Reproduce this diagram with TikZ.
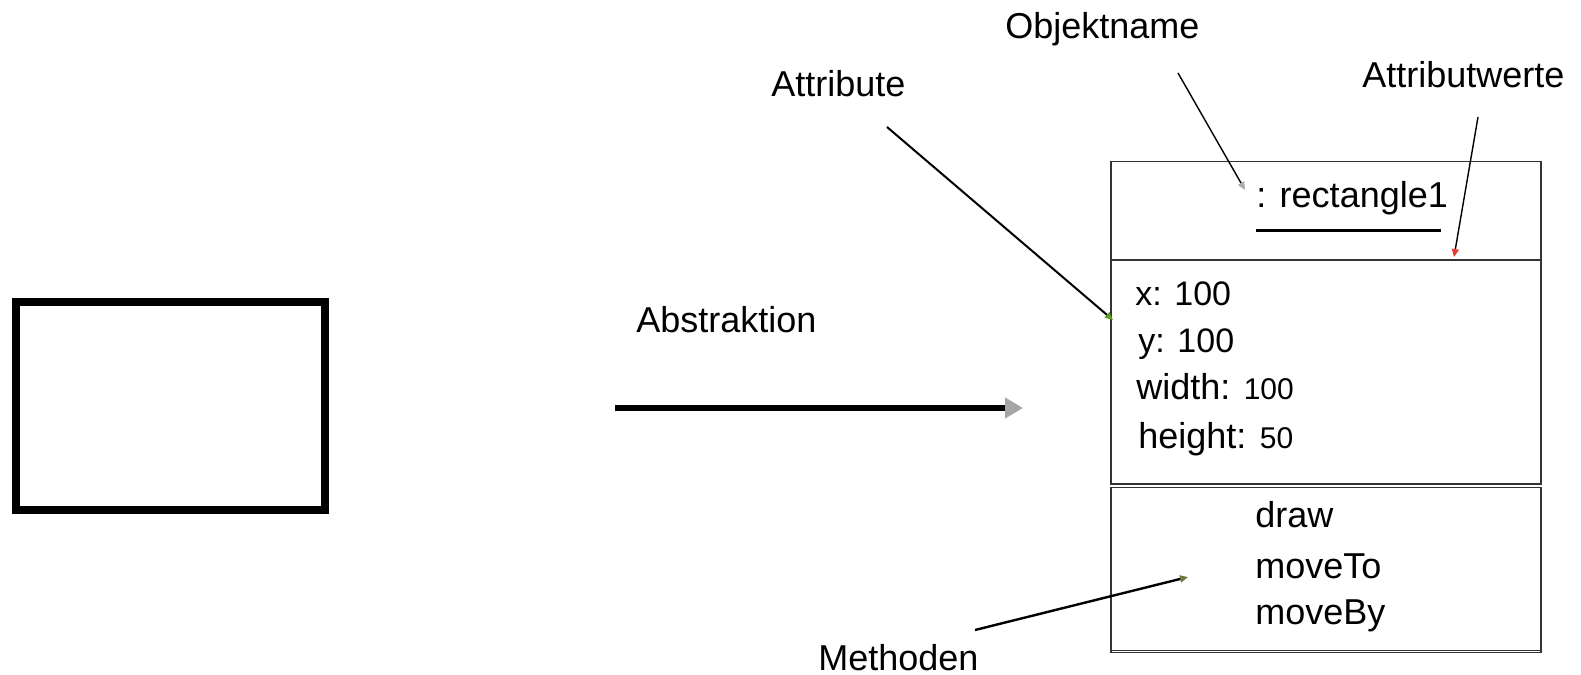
\documentclass[tikz,border=0pt]{standalone}
\usepackage{fontspec}
\setmainfont{Liberation Sans}
\usepackage{tikz}
\usetikzlibrary{shapes}
\usetikzlibrary{arrows.meta}
\usetikzlibrary{calc}
\definecolor{spitzegrau}{RGB}{170,170,170}
\definecolor{spitzegruen}{RGB}{90,160,40}
\definecolor{spitzerot}{RGB}{230,60,50}
\definecolor{spitzeoliv}{RGB}{110,120,60}
\tikzstyle{etikett}=[
        font=\fontsize{18}{22}\selectfont,
        inner sep=0pt,
        anchor=base west
]
\tikzstyle{wert}=[etikett,font=\fontsize{17}{20}\selectfont]
\tikzstyle{fach}=[rectangle,draw=black!80,line width=0.8pt,inner sep=0pt,anchor=north west,minimum width=215pt]
\tikzstyle{fachlinie}=[draw=black!80,line width=0.8pt]
\tikzstyle{figur}=[rectangle,draw,line width=4pt,minimum width=154.5pt,minimum height=104pt]
\tikzstyle{pfeil}=[line width=3pt,-{Triangle[length=9pt,width=10pt,color=black!35]}]
\tikzset{zeiger/.style={line width=1pt,-{Triangle[length=4pt,width=3.5pt,color=#1]}}}

\begin{document}
\begin{tikzpicture}[x=0.5pt,y=-0.5pt]
\useasboundingbox (0,0) rectangle (1581,675);
%Rechteck links
\node[figur] (rechteck) at (170.5,406) {};
%Abstraktion
\node[etikett] (abstr) at (636,332) {Abstraktion};
\coordinate (abA) at (615,408);
\coordinate (abB) at (1023,408);
\draw[pfeil] (abA) -- (abB);
%Objekt
\node[fach,minimum height=49.15pt] (kopf) at (1110,160.7) {};
\node[fach,minimum height=112.15pt] (attribute) at (1110,259) {};
\node[fach,minimum height=82.5pt] (methoden) at (1110,486.7) {};
\draw[fachlinie] ($(methoden.south west)+(0,-2.7)$) -- ($(methoden.south east)+(0,-2.7)$);
\node[etikett] (objname) at (1256,207) {: rectangle1};
\draw[line width=1.5pt] ($(objname.base west)+(0,23)$) -- ($(objname.base east)+(-7,23)$);
\node[wert] (ax) at (1135,305) {x: 100};
\node[wert] (ay) at (1138,352) {y: 100};
\node[etikett] (aw) at (1136,399) {width: {\fontsize{15}{18}\selectfont 100}};
\node[etikett] (ah) at (1138,448) {height: {\fontsize{15}{18}\selectfont 50}};
\node[etikett] (mdraw) at (1255,527) {draw};
\node[etikett] (mto) at (1255,578) {moveTo};
\node[etikett] (mby) at (1255,624) {moveBy};
%Beschriftungen
\node[etikett] (lblObj) at (1005,38) {Objektname};
\node[etikett] (lblWert) at (1362,87) {Attributwerte};
\node[etikett] (lblAttr) at (771,96) {Attribute};
\node[etikett] (lblMeth) at (818,670) {Methoden};
\coordinate (objA) at (1178,73);
\coordinate (objB) at (1245,190);
\coordinate (wertA) at (1478,117);
\coordinate (wertB) at (1454,257);
\coordinate (attrA) at (887,127);
\coordinate (attrB) at (1113,320);
\coordinate (methA) at (975,630);
\coordinate (methB) at (1188,577);
%Zeiger
\draw[zeiger=spitzegrau,line width=0.7pt] (objA) -- (objB);
\draw[zeiger=spitzerot,line width=0.7pt] (wertA) -- (wertB);
\draw[zeiger=spitzegruen] (attrA) -- (attrB);
\draw[zeiger=spitzeoliv,line width=1.2pt] (methA) -- (methB);
\end{tikzpicture}
\end{document}
